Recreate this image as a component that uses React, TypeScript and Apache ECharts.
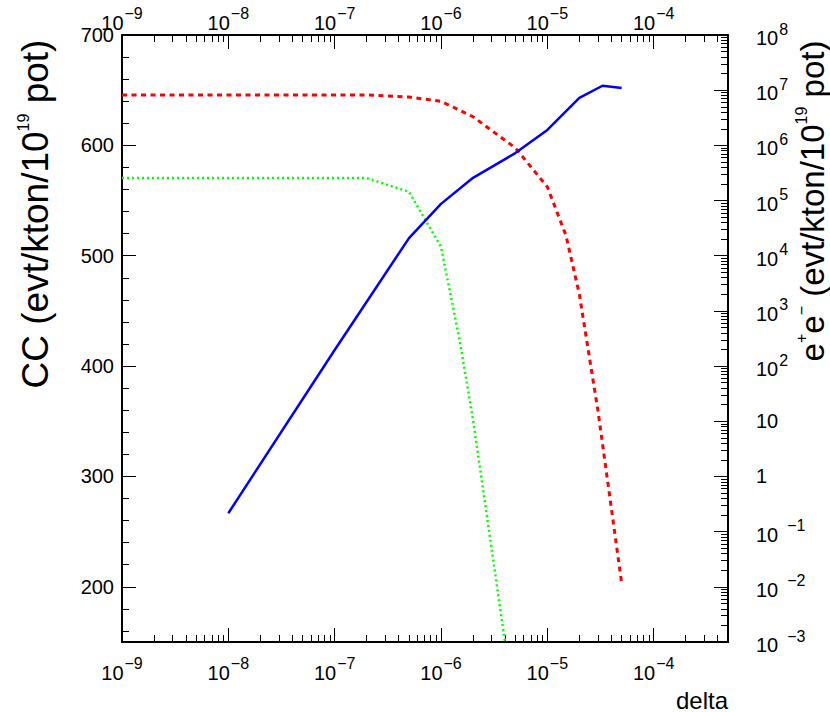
import React, { useEffect, useRef } from "react";
import * as echarts from "echarts";

// ---------- data ----------
// CC rate (left, linear axis)
const deltaCC = [1e-8, 1e-7, 5e-7, 1e-6, 2e-6, 5e-6, 1e-5, 2e-5, 3.3e-5, 5e-5];
const ccValues = [266.7, 414.6, 516, 547, 570.6, 593, 614, 643, 654, 652];

// e+e- rate, red dashed (right, log axis)
const deltaEERed = [1e-9, 1e-8, 1e-7, 2e-7, 5e-7, 1e-6, 2e-6, 5e-6, 1e-5, 1.5e-5, 2e-5, 3e-5, 5e-5];
const eeRedValues = [8.2e6, 8.2e6, 8.2e6, 8.2e6, 7.5e6, 6.3e6, 3.3e6, 9.0e5, 1.77e5, 2.3e4, 2.0e3, 15, 0.0116];

// e+e- rate, green dotted (right, log axis)
const deltaEEGreen = [1e-9, 1e-8, 1e-7, 2e-7, 5e-7, 1e-6, 1.5e-6, 2e-6, 4e-6];
const eeGreenValues = [2.55e5, 2.55e5, 2.55e5, 2.55e5, 1.44e5, 1.45e4, 2.9e2, 10.7, 1.0e-3];

// ---------- axes / tick labels ----------
const xTickExponents = [-9, -8, -7, -6, -5, -4];
const yLeftLabelValues = [200, 300, 400, 500, 600, 700];
const yLeftMinorValues = [160, 180, 200, 220, 240, 260, 280, 300, 320, 340, 360, 380, 400, 420, 440, 460, 480, 500, 520, 540, 560, 580, 600, 620, 640, 660, 680, 700];
const yRightExponents = [-3, -2, -1, 0, 1, 2, 3, 4, 5, 6, 7, 8];
const minorMultipliers = [2, 3, 4, 5, 6, 7, 8, 9];

const X_MIN = 1e-9;
const X_MAX = 5e-4;
const YL_MIN = 150;
const YL_MAX = 700;
const YR_MIN = 1e-3;
const YR_MAX = 1e8;

const FONT = "Liberation Sans";

function pow10(e: number) {
  return Number(Math.pow(10, e).toPrecision(6));
}
function minorLogTicks(exps: number[], maxVal: number) {
  const out: number[] = [];
  exps.forEach((e) => {
    minorMultipliers.forEach((m) => {
      const v = Number((m * Math.pow(10, e)).toPrecision(6));
      if (v <= maxVal * 1.0000001) out.push(v);
    });
  });
  return out;
}

const xMajor = xTickExponents.map(pow10);
const xMinor = minorLogTicks([-9, -8, -7, -6, -5, -4], X_MAX);
const yRightMajor = yRightExponents.map(pow10);
const yRightMinor = minorLogTicks([-3, -2, -1, 0, 1, 2, 3, 4, 5, 6, 7], YR_MAX);

const xRich = {
  b: { fontFamily: FONT, fontSize: 20, color: "#000", verticalAlign: "middle", lineHeight: 16, padding: [6, 0, 0, 0] },
  s: { fontFamily: FONT, fontSize: 16, color: "#000", verticalAlign: "middle", lineHeight: 16, padding: [0, 0, 14, 1] },
};
const yRich = {
  b: { fontFamily: FONT, fontSize: 20, color: "#000", verticalAlign: "middle", lineHeight: 20, padding: [6, 0, 0, 0] },
  s: { fontFamily: FONT, fontSize: 16, color: "#000", verticalAlign: "middle", lineHeight: 16, padding: [0, 0, 12, 1] },
  g: { fontFamily: FONT, fontSize: 16, color: "#000", verticalAlign: "middle", lineHeight: 16, padding: [0, 0, 12, 9] },
  p: { fontFamily: FONT, fontSize: 20, color: "#000", verticalAlign: "middle", lineHeight: 20 },
};

function expOf(v: number) {
  return Math.round(Math.log10(v));
}
function xLabel(v: number) {
  const e = expOf(v);
  return "{b|10}{s|" + (e < 0 ? "\u2212" + -e : String(e)) + "}";
}
function yRightLabel(v: number) {
  const e = expOf(v);
  if (e === 0) return "{p|1}";
  if (e === 1) return "{p|10}";
  if (e < 0) return "{b|10}{g|\u2212" + -e + "}";
  return "{b|10}{s|" + e + "}";
}

const BLACK = "#000";

function majorX(position: "top" | "bottom", margin: number) {
  return {
    type: "log",
    logBase: 10,
    position,
    min: X_MIN,
    max: X_MAX,
    axisLine: { show: true, onZero: false, lineStyle: { color: BLACK, width: 2 } },
    axisTick: { show: true, inside: true, length: 14, customValues: xMajor, lineStyle: { color: BLACK, width: 1 } },
    axisLabel: { show: true, margin, customValues: xMajor, formatter: xLabel, rich: xRich, color: BLACK, fontFamily: FONT, fontSize: 20 },
    splitLine: { show: false },
    minorTick: { show: false },
  };
}
function minorX(position: "top" | "bottom") {
  return {
    type: "log",
    logBase: 10,
    position,
    min: X_MIN,
    max: X_MAX,
    axisLine: { show: false, onZero: false },
    axisTick: { show: true, inside: true, length: 7, customValues: xMinor, lineStyle: { color: BLACK, width: 1 } },
    axisLabel: { show: false },
    splitLine: { show: false },
  };
}

export default function App() {
  const ref = useRef<HTMLDivElement>(null);

  useEffect(() => {
    if (!ref.current) return;
    const chart = echarts.init(ref.current, undefined, { renderer: "svg" });

    const option: any = {
      animation: false,
      backgroundColor: "#fff",
      grid: {
        left: 122,
        right: 102,
        top: 35,
        bottom: 70,
        containLabel: false,
        outerBoundsMode: "none",
      },
      xAxis: [majorX("bottom", 20), majorX("top", 7), minorX("bottom"), minorX("top")],
      yAxis: [
        {
          type: "value",
          position: "left",
          min: YL_MIN,
          max: YL_MAX,
          axisLine: { show: true, onZero: false, lineStyle: { color: BLACK, width: 2 } },
          axisTick: { show: true, inside: true, length: 14, customValues: yLeftLabelValues, lineStyle: { color: BLACK, width: 1 } },
          axisLabel: { show: true, margin: 8, customValues: yLeftLabelValues, color: BLACK, fontFamily: FONT, fontSize: 20, lineHeight: 12 },
          splitLine: { show: false },
        },
        {
          type: "value",
          position: "left",
          min: YL_MIN,
          max: YL_MAX,
          axisLine: { show: false, onZero: false },
          axisTick: { show: true, inside: true, length: 7, customValues: yLeftMinorValues, lineStyle: { color: BLACK, width: 1 } },
          axisLabel: { show: false },
          splitLine: { show: false },
        },
        {
          type: "log",
          logBase: 10,
          position: "right",
          min: YR_MIN,
          max: YR_MAX,
          axisLine: { show: true, onZero: false, lineStyle: { color: BLACK, width: 2 } },
          axisTick: { show: true, inside: true, length: 14, customValues: yRightMajor, lineStyle: { color: BLACK, width: 1 } },
          axisLabel: { show: true, margin: 28, customValues: yRightMajor, formatter: yRightLabel, rich: yRich, color: BLACK, fontFamily: FONT, fontSize: 20, align: "left" },
          splitLine: { show: false },
        },
        {
          type: "log",
          logBase: 10,
          position: "right",
          min: YR_MIN,
          max: YR_MAX,
          axisLine: { show: false, onZero: false },
          axisTick: { show: true, inside: true, length: 7, customValues: yRightMinor, lineStyle: { color: BLACK, width: 1 } },
          axisLabel: { show: false },
          splitLine: { show: false },
        },
      ],
      series: [
        {
          name: "CC",
          type: "line",
          xAxisIndex: 0,
          yAxisIndex: 0,
          data: deltaCC.map((d, i) => [d, ccValues[i]]),
          showSymbol: false,
          symbol: "none",
          lineStyle: { color: "#0000ff", width: 2.5, type: "solid" },
          z: 3,
        },
        {
          name: "ee red",
          type: "line",
          xAxisIndex: 0,
          yAxisIndex: 2,
          data: deltaEERed.map((d, i) => [d, eeRedValues[i]]),
          showSymbol: false,
          symbol: "none",
          lineStyle: { color: "#ff0000", width: 3, type: [5, 4.5] },
          z: 2,
        },
        {
          name: "ee green",
          type: "line",
          xAxisIndex: 0,
          yAxisIndex: 2,
          data: deltaEEGreen.map((d, i) => [d, eeGreenValues[i]]),
          showSymbol: false,
          symbol: "none",
          lineStyle: { color: "#00ff00", width: 2.5, type: [2, 3] },
          z: 2,
        },
      ],
      graphic: [
        {
          type: "text",
          x: 33,
          y: 214,
          rotation: Math.PI / 2,
          style: {
            text: "{a|CC (evt/kton/10}{s|19}{a| pot)}",
            align: "center",
            verticalAlign: "middle",
            fill: BLACK,
            rich: {
              a: { fontFamily: FONT, fontSize: 37, fill: BLACK, color: BLACK, verticalAlign: "middle", lineHeight: 34, padding: [4, 0, 0, 0] },
              s: { fontFamily: FONT, fontSize: 16, fill: BLACK, color: BLACK, verticalAlign: "middle", lineHeight: 16, padding: [0, 0, 20, 0] },
            },
          },
        },
        {
          type: "text",
          x: 810,
          y: 201,
          rotation: Math.PI / 2,
          style: {
            text: "{a|e}{s|+}{a|e}{s|\u2212}{a| (evt/kton/10}{s|19}{a| pot)}",
            align: "center",
            verticalAlign: "middle",
            fill: BLACK,
            rich: {
              a: { fontFamily: FONT, fontSize: 33, fill: BLACK, color: BLACK, verticalAlign: "middle", lineHeight: 28, padding: [4, 0, 0, 0] },
              s: { fontFamily: FONT, fontSize: 16, fill: BLACK, color: BLACK, verticalAlign: "middle", lineHeight: 14, padding: [0, 0, 18, 0] },
            },
          },
        },
        {
          type: "text",
          x: 728,
          y: 700,
          style: {
            text: "delta",
            align: "right",
            verticalAlign: "middle",
            fill: BLACK,
            fontFamily: FONT,
            fontSize: 24,
          },
        },
      ],
    };

    chart.setOption(option);
    return () => chart.dispose();
  }, []);

  return <div ref={ref} style={{ position: "fixed", left: 0, top: 0, width: 830, height: 712 }} />;
}
